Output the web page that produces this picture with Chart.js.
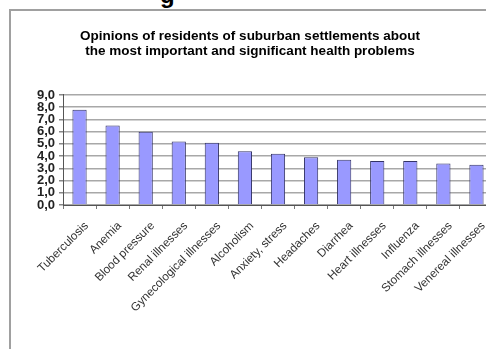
<!DOCTYPE html>
<html>
<head>
<meta charset="utf-8">
<script src="https://cdn.jsdelivr.net/npm/chart.js@4/dist/chart.umd.min.js"></script>
<style>
  body { margin: 0; width: 486px; height: 349px; overflow: hidden; position: relative; background: #fff; }
  #frame { position: absolute; left: 9px; top: 9px; width: 500px; height: 360px; border-left: 2px solid #a0a0a0; border-top: 2px solid #a0a0a0; }
  #head { position: absolute; left: 160px; top: -19px; font: bold 24px "Liberation Sans", Arial, sans-serif; color: #000; }
  #chart { position: absolute; left: 0; top: 0; }
</style>
</head>
<body>
<div id="head">g</div>
<div id="frame"></div>
<canvas id="chart" width="500" height="349"></canvas>
<script>
var titleLines = [
    'Opinions of residents of suburban settlements about',
    'the most important and significant health problems'
];

var categories = [
    'Tuberculosis', 'Anemia', 'Blood pressure', 'Renal illnesses',
    'Gynecological illnesses', 'Alcoholism', 'Anxiety, stress', 'Headaches',
    'Diarrhea', 'Heart illnesses', 'Influenza', 'Stomach illnesses', 'Venereal illnesses'
];

var values = [7.8, 6.5, 6.0, 5.2, 5.1, 4.4, 4.2, 3.9, 3.7, 3.6, 3.6, 3.4, 3.3];

var yTicks = [0, 1, 2, 3, 4, 5, 6, 7, 8, 9];

var font = '"Liberation Sans", Arial, sans-serif';

var ctx = document.getElementById('chart');

var myBarChart = new Chart(ctx, {
    type: 'bar',
    data: {
        labels: categories,
        datasets: [{
            data: values,
            backgroundColor: '#9999ff',
            borderColor: '#333366',
            borderWidth: 1,
            categoryPercentage: 1,
            barPercentage: 0.43
        }]
    },
    options: {
        responsive: false,
        animation: false,
        layout: {
            padding: { left: 7, right: 7, top: 0, bottom: 0 }
        },
        plugins: {
            legend: { display: false },
            tooltip: { enabled: false },
            title: {
                display: true,
                text: titleLines,
                color: '#000',
                font: { family: font, size: 13.5, weight: 'bold', lineHeight: 1.11 },
                padding: { top: 29, bottom: 36 }
            }
        },
        scales: {
            y: {
                min: yTicks[0],
                max: yTicks[yTicks.length - 1],
                afterBuildTicks: function(scale){
                    scale.ticks = yTicks.map(function(v){ return { value: v }; });
                },
                afterFit: function(scale){
                    scale.width = 56;
                },
                ticks: {
                    color: '#222',
                    padding: 4,
                    autoSkip: false,
                    font: { family: font, size: 13, weight: 'bold' },
                    callback: function(v){
                        return Number(v).toFixed(1).replace('.', ',');
                    }
                },
                grid: {
                    color: '#a8a8a8',
                    lineWidth: 1.5,
                    tickLength: 4,
                    tickColor: '#888'
                },
                border: { color: '#555', width: 1 }
            },
            x: {
                afterFit: function(scale){
                    scale.height = 144;
                },
                ticks: {
                    color: '#333',
                    autoSkip: false,
                    minRotation: 45,
                    maxRotation: 45,
                    labelOffset: 7,
                    padding: 10,
                    font: { family: font, size: 11.7 }
                },
                grid: {
                    offset: true,
                    drawOnChartArea: false,
                    tickLength: 4,
                    color: '#777'
                },
                border: { color: '#555', width: 1 }
            }
        }
    }
});
</script>
</body>
</html>
